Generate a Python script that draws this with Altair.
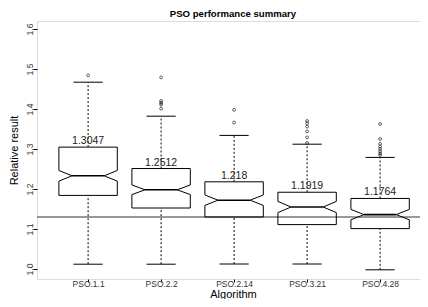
import altair as alt
import pandas as pd

# ---- data ----
categories = ["PSO.1.1", "PSO.2.2", "PSO.2.14", "PSO.3.21", "PSO.4.28"]
q3_values = [1.3047, 1.2512, 1.218, 1.1919, 1.1764]
medians = [1.233, 1.198, 1.172, 1.155, 1.136]
q1_values = [1.184, 1.1525, 1.130, 1.111, 1.101]
whisker_hi = [1.467, 1.382, 1.334, 1.312, 1.279]
whisker_lo = [1.012, 1.012, 1.0125, 1.0125, 0.998]
notch_half = [0.0133, 0.012, 0.013, 0.014, 0.013]
outliers = [
    [1.484],
    [1.479, 1.420, 1.415, 1.411, 1.401],
    [1.398, 1.366],
    [1.370, 1.364, 1.356, 1.344, 1.329, 1.315],
    [1.3625, 1.325, 1.313, 1.306, 1.300, 1.294, 1.289, 1.285],
]
ref_value = [1.13]

FONT = "Liberation Sans"
HALF_W = 0.4      # box half width (x units)
NOTCH_X = 0.22    # notch point offset from centre
CAP_W = 0.2       # whisker cap half width

# ---- tables built from the arrays ----
poly_rows, box_rows, out_rows = [], [], []
for i, c in enumerate(categories):
    p = i + 1
    m, n, lo, hi = medians[i], notch_half[i], q1_values[i], q3_values[i]
    pts = [(p - HALF_W, hi), (p + HALF_W, hi), (p + HALF_W, m + n), (p + NOTCH_X, m),
           (p + HALF_W, m - n), (p + HALF_W, lo), (p - HALF_W, lo), (p - HALF_W, m - n),
           (p - NOTCH_X, m), (p - HALF_W, m + n), (p - HALF_W, hi)]
    for j, (x, y) in enumerate(pts):
        poly_rows.append({"alg": c, "ord": j, "px": x, "py": y})
    box_rows.append({
        "alg": c, "pos": p, "q1": lo, "q3": hi, "med": m,
        "wlo": whisker_lo[i], "whi": whisker_hi[i],
        "mx1": p - NOTCH_X, "mx2": p + NOTCH_X,
        "cx1": p - CAP_W, "cx2": p + CAP_W,
        "label": str(q3_values[i]),
    })
    for v in outliers[i]:
        out_rows.append({"alg": c, "pos": p, "v": v})

poly = pd.DataFrame(poly_rows)
boxes = pd.DataFrame(box_rows)
outs = pd.DataFrame(out_rows)
ref = pd.DataFrame({"v": ref_value})

label_expr = "[" + ",".join('"%s"' % c for c in categories) + "][datum.value - 1]"

xscale = alt.Scale(domain=[0.3, 0.3 + 383 / 73], nice=False, zero=False)
yscale = alt.Scale(domain=[0.975, 1.62], nice=False, zero=False)

xaxis = alt.Axis(values=[1, 2, 3, 4, 5], labelExpr=label_expr, title="Algorithm",
                 labelAngle=0, labelAlign="center", labelBaseline="alphabetic",
                 labelPadding=4, tickSize=3, labelFontSize=8.5, labelFont=FONT,
                 labelColor="#333", tickColor="black", domain=False, grid=False,
                 labelFlush=False, labelOverlap=False,
                 titleFont=FONT, titleFontSize=11, titleFontWeight="normal",
                 titleColor="black", titleX=196, titleY=18.5, titleAlign="center",
                 titleBaseline="alphabetic")
yaxis = alt.Axis(values=[1.0, 1.1, 1.2, 1.3, 1.4, 1.5, 1.6], format=".1f",
                 title="Relative result", labelAngle=270, labelAlign="center",
                 labelBaseline="alphabetic", labelPadding=0.5, tickSize=4,
                 labelFontSize=8.5, labelFont=FONT, labelColor="#333",
                 tickColor="black", domain=False, grid=False, labelFlush=False,
                 labelOverlap=False,
                 titleFont=FONT, titleFontSize=11, titleFontWeight="normal",
                 titleColor="black", titleX=-20, titleY=129, titleAngle=270,
                 titleAlign="center", titleBaseline="alphabetic")


def X(field):
    return alt.X(field, type="quantitative", scale=xscale, axis=xaxis)


def Y(field):
    return alt.Y(field, type="quantitative", scale=yscale, axis=yaxis)


ref_line = alt.Chart(ref).mark_rule(color="#333", strokeWidth=1).encode(y=Y("v"))

whiskers_up = alt.Chart(boxes).mark_rule(color="black", strokeWidth=1, strokeDash=[2, 2]).encode(
    x=X("pos"), y=Y("q3"), y2="whi:Q")
whiskers_dn = alt.Chart(boxes).mark_rule(color="black", strokeWidth=1, strokeDash=[2, 2]).encode(
    x=X("pos"), y=Y("wlo"), y2="q1:Q")
caps_hi = alt.Chart(boxes).mark_rule(color="black", strokeWidth=1).encode(
    x=X("cx1"), x2="cx2:Q", y=Y("whi"))
caps_lo = alt.Chart(boxes).mark_rule(color="black", strokeWidth=1).encode(
    x=X("cx1"), x2="cx2:Q", y=Y("wlo"))
box_outline = alt.Chart(poly).mark_line(color="black", strokeWidth=1).encode(
    x=X("px"), y=Y("py"), detail="alg:N", order="ord:Q")
median_lines = alt.Chart(boxes).mark_rule(color="black", strokeWidth=1.6).encode(
    x=X("mx1"), x2="mx2:Q", y=Y("med"))
points = alt.Chart(outs).mark_point(shape="circle", filled=False, color="black",
                                    size=8, strokeWidth=0.9).encode(x=X("pos"), y=Y("v"))
labels = alt.Chart(boxes).mark_text(font=FONT, fontSize=10.5, color="#222", dy=-3,
                                    baseline="alphabetic", align="center").encode(
    x=X("pos"), y=Y("q3"), text="label:N")

chart = alt.layer(
    ref_line, whiskers_up, whiskers_dn, caps_hi, caps_lo, box_outline,
    median_lines, points, labels
).properties(
    width=383, height=258,
    autosize=alt.AutoSizeParams(type="none"),
    padding={"left": 29, "top": 13, "right": 0, "bottom": 20},
    title=alt.TitleParams("PSO performance summary", font=FONT, fontSize=9.6,
                          fontWeight="bold", color="black", anchor="middle",
                          dx=4.5, dy=11.5, offset=6, baseline="alphabetic"),
).configure_view(stroke="black", strokeWidth=1).configure(background="white")

chart.save("out.html", embed_options={"renderer": "svg", "actions": False})
